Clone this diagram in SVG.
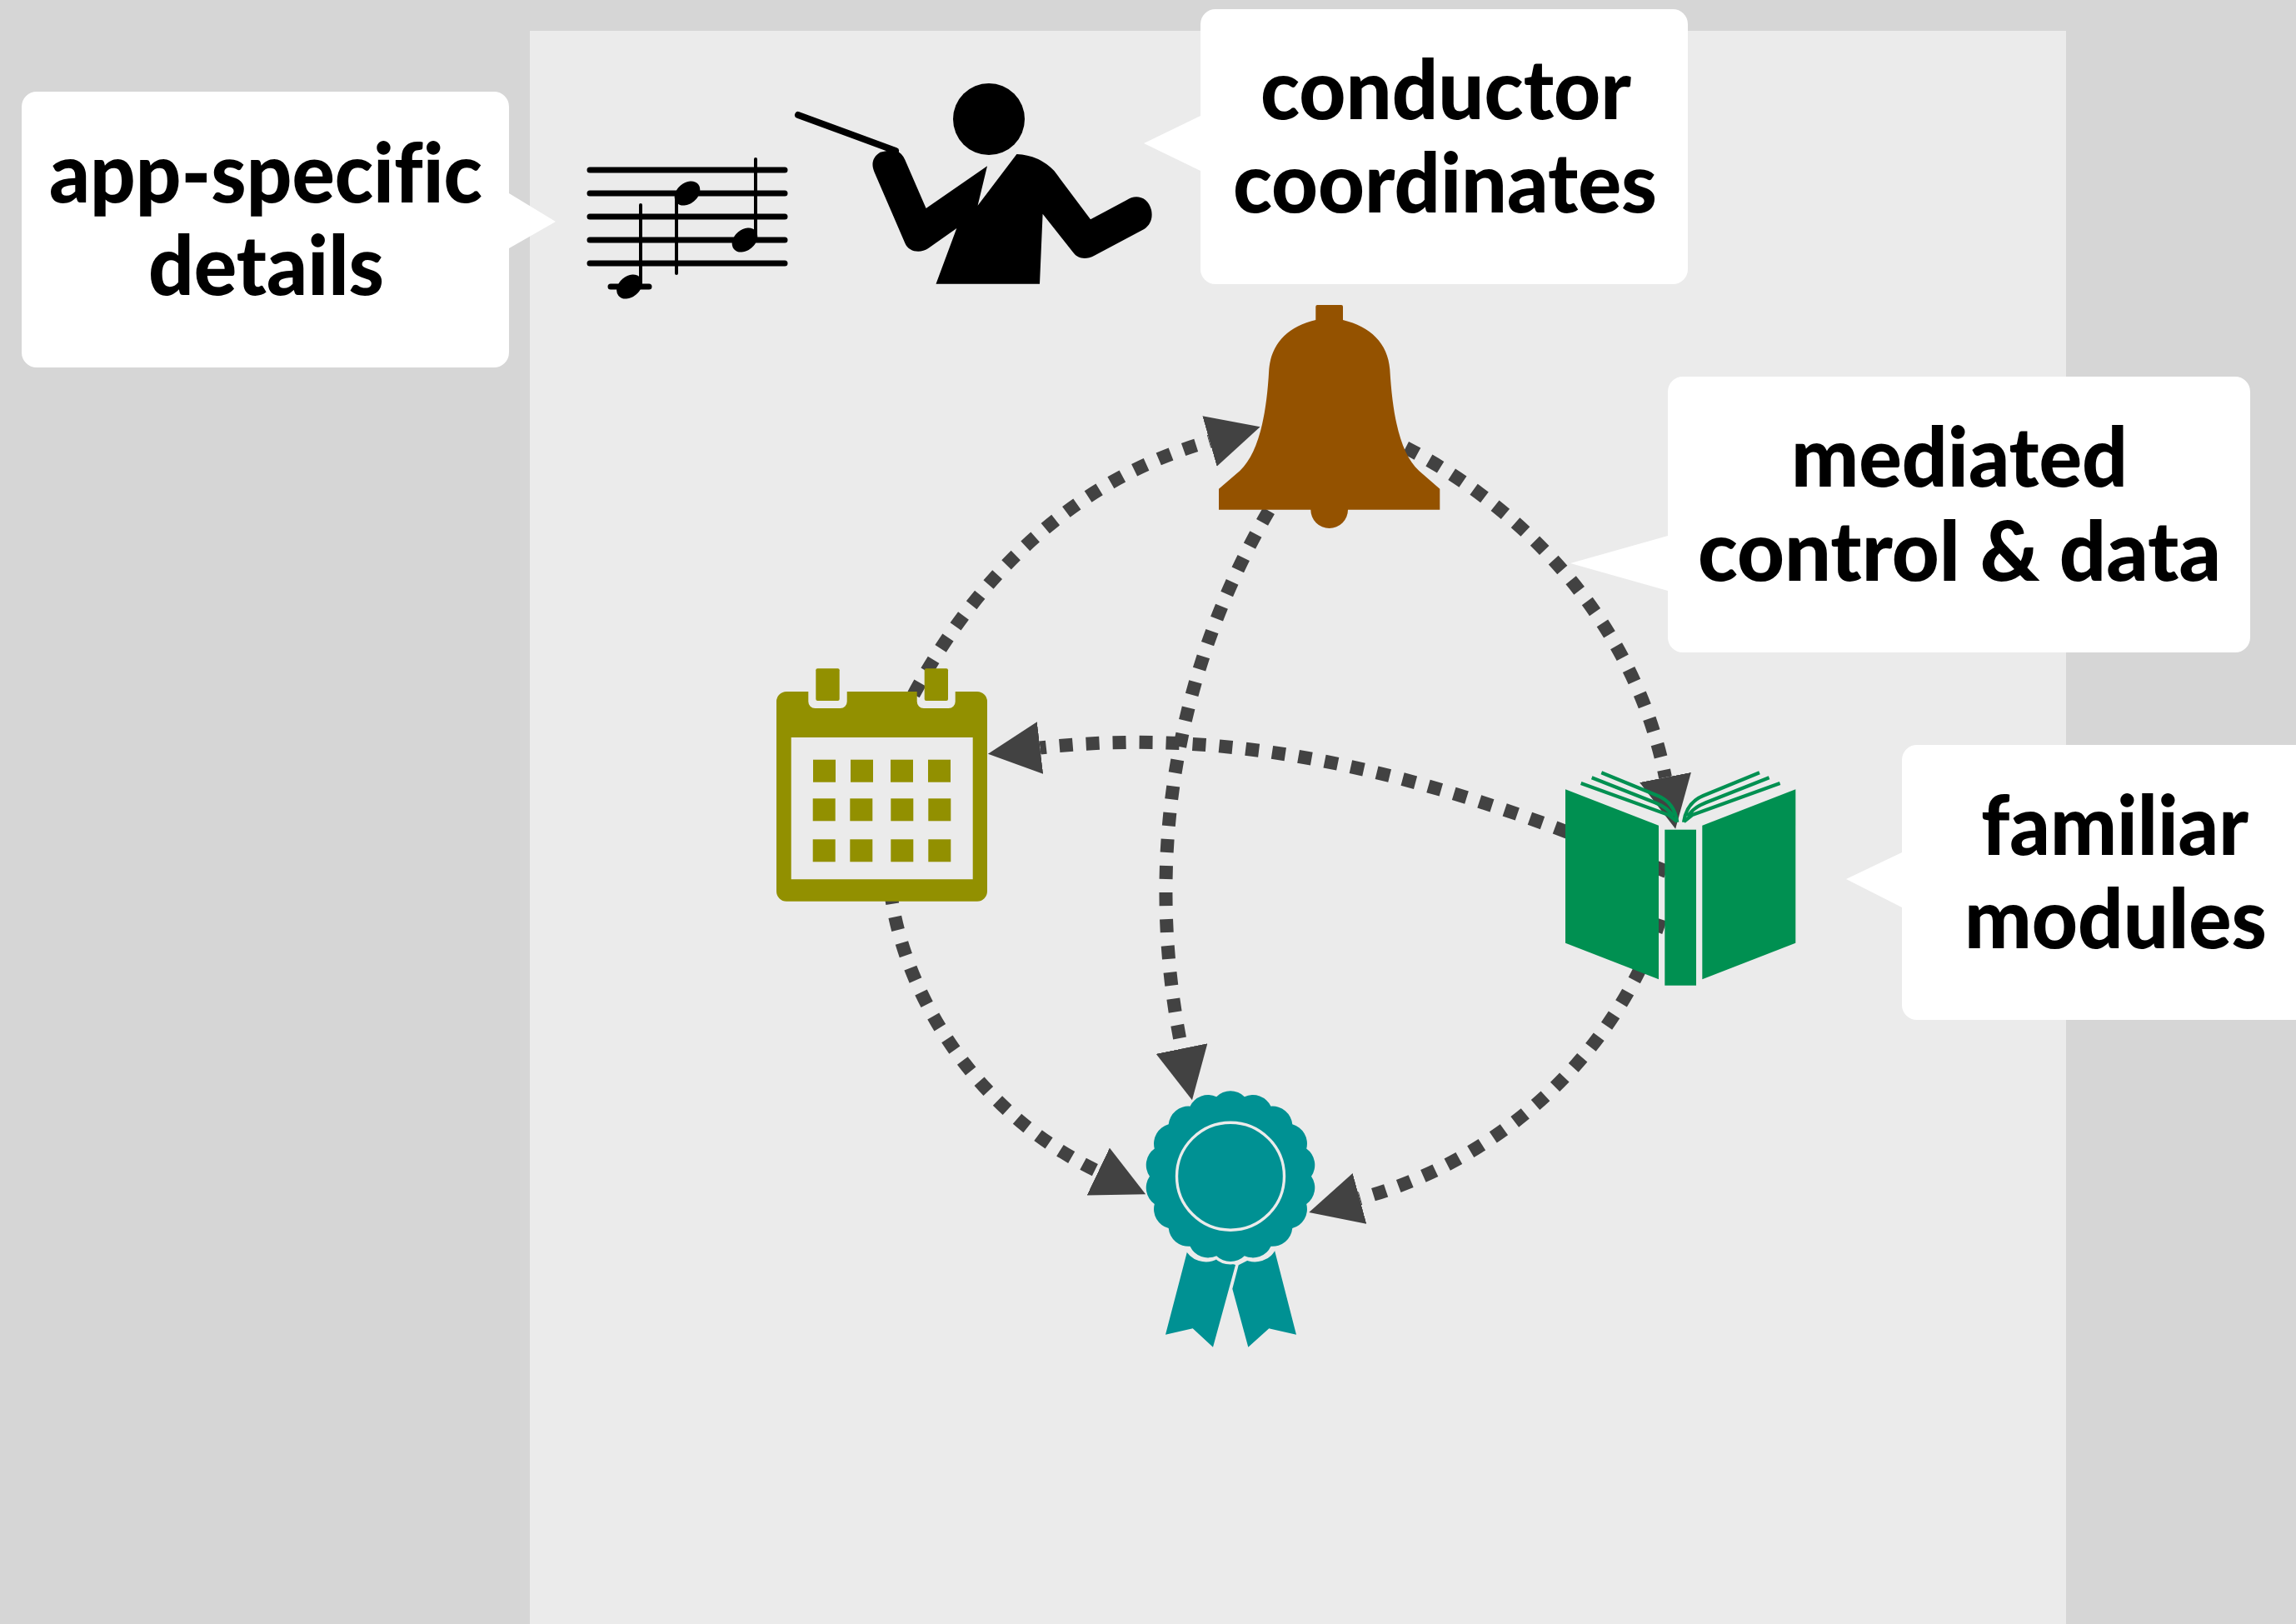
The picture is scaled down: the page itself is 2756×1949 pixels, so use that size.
<svg xmlns="http://www.w3.org/2000/svg" width="2756" height="1949" viewBox="0 0 2756 1949">
<style>
.call{fill:#fff}
.lbl{font-family:"Lato","Noto Sans",sans-serif;font-weight:900;font-size:100px;fill:#000;font-variant-ligatures:none}
.arc{fill:none;stroke:#424242;stroke-width:16;stroke-dasharray:16 16;marker-end:url(#tip)}
.staff{stroke:#000;stroke-width:7;stroke-linecap:round;fill:none}
.stem{stroke:#000;stroke-width:4;stroke-linecap:round;fill:none}
.page{fill:none;stroke:#009051;stroke-width:4.2}
.asp{fill:#929000}
</style>
<defs>
<marker id="tip" markerUnits="userSpaceOnUse" markerWidth="64" markerHeight="64" refX="0" refY="31.5" orient="auto" viewBox="0 0 64 64"><path d="M0 0L63 31.5L0 63Z" fill="#424242"/></marker>
</defs>
<rect width="2756" height="1949" fill="#d6d6d6"/>
<rect x="636" y="37" width="1844" height="1912" fill="#ebebeb"/>
<g id="connectors">
<path class="arc" d="M1082 862C1163 697 1285 577 1452 529.5"/>
<path class="arc" d="M1658.6 523C1830 602 1963 750 1999 933"/>
<path class="arc" d="M1993 1103C1939 1266 1802 1392 1632 1438.5"/>
<path class="arc" d="M2000.5 1046C1748 940 1503 868 1248.5 897.5"/>
<path class="arc" d="M1523 613C1412 804 1372 1028 1418.5 1258.5"/>
<path class="arc" d="M1069 1069C1081 1172 1155 1328 1318.3 1406"/>
</g>
<g id="score">
<path class="staff" d="M708 204H942M708 232H942M708 260H942M708 288H942M708 316H942M733 344H779"/>
<path class="stem" d="M769 246V340M812 233V328M907 191V283"/>
<ellipse cx="755.5" cy="344" rx="17" ry="12.5" transform="rotate(-40 755.5 344)"/>
<ellipse cx="825" cy="232" rx="17" ry="12.5" transform="rotate(-40 825 232)"/>
<ellipse cx="894" cy="288" rx="17" ry="12.5" transform="rotate(-40 894 288)"/>
</g>
<g id="conductor">
<circle cx="1187" cy="143" r="43"/>
<path d="M958 138L1075 181" stroke="#000" stroke-width="8" stroke-linecap="round" fill="none"/>
<path d="M1056.5 182.7Q1066 180 1075 180Q1083 184 1086.3 191.7L1111.6 250L1185 199.3L1173.6 246.7L1220.4 185Q1247 186 1265.4 205L1309 263.3L1352.6 240C1362 233 1378 235 1382 252C1384 262 1381 270 1373.3 275L1313.6 306.7C1304 312 1294 311 1288.4 303.3L1251.6 256.7L1248 340.7H1123.5L1148.3 274L1113.9 298.3C1105 304 1091 303 1086.3 291.7L1049.6 206.7C1045 196 1048 188 1056.5 182.7Z"/>
</g>
<g id="bell">
<path fill="#945200" d="M1579.3 368Q1579.3 366 1581.3 366H1610Q1612 366 1612 368V384C1645 392 1666 412 1668.3 443.3C1672 505 1682 545 1703.3 565L1728.3 586.7V611.7H1618A22.3 22.3 0 0 1 1573.3 611.7H1463V586.7L1488.3 565C1509 545 1520 505 1523.3 443.3C1526 412 1546 392 1579.3 384Z"/>
</g>
<g id="calendar">
<path class="asp" fill-rule="evenodd" d="M944 830H970.3V842A8 8 0 0 0 978.3 850H1008.7A8 8 0 0 0 1016.7 842V830H1100.7V842A8 8 0 0 0 1108.7 850H1138.7A8 8 0 0 0 1146.7 842V830H1173A12 12 0 0 1 1185 842V1069.7A12 12 0 0 1 1173 1081.7H944A12 12 0 0 1 932 1069.7V842A12 12 0 0 1 944 830ZM949.7 885V1055.3H1167.7V885Z"/>
<rect class="asp" x="979.3" y="802.3" width="28.4" height="38.7" rx="2"/>
<rect class="asp" x="1109.7" y="802.3" width="28.3" height="38.7" rx="2"/>
<rect class="asp" x="976" y="911.7" width="27" height="27"/><rect class="asp" x="1021" y="911.7" width="27" height="27"/><rect class="asp" x="1069" y="911.7" width="27" height="27"/><rect class="asp" x="1114" y="911.7" width="27" height="27"/>
<rect class="asp" x="975.7" y="958.3" width="27" height="27"/><rect class="asp" x="1020.3" y="958.3" width="27" height="27"/><rect class="asp" x="1069.3" y="958.3" width="27" height="27"/><rect class="asp" x="1114.3" y="958.3" width="27" height="27"/>
<rect class="asp" x="975.7" y="1007.3" width="27" height="27"/><rect class="asp" x="1020.3" y="1007.3" width="27" height="27"/><rect class="asp" x="1069.3" y="1007.3" width="27" height="27"/><rect class="asp" x="1114.3" y="1007.3" width="27" height="27"/>
</g>
<g id="book">
<path fill="#009051" d="M1879 947.3L1991 990.7V1175.3L1879 1131.7Z"/>
<rect x="1998.3" y="995.7" width="37.7" height="187" fill="#009051"/>
<path fill="#009051" d="M2155.3 947.3L2043.3 990.7V1175.3L2155.3 1131.7Z"/>
<path class="page" d="M1897.7 940L2003 978L2013 986M1910.7 933.3L1986.7 963.3Q2003.3 970 2008.3 980M1922.3 927.3L1990 955Q2010 963.3 2013.3 986.7"/>
<path class="page" d="M2136.6 940L2031.3 978L2021.3 986M2123.6 933.3L2047.6 963.3Q2031 970 2026 980M2112 927.3L2044.3 955Q2024.3 963.3 2021 986.7"/>
</g>
<g id="rosette">
<path fill="#009193" d="M1426 1498.3L1483 1518L1456 1616.7L1431.7 1594.3L1399 1601.7Z"/>
<path fill="#009193" d="M1529 1496.7L1556 1601.7L1523.3 1594.3L1498.3 1616.7L1479.3 1546.7L1486.7 1518.3Z"/>
<g transform="translate(1477 1411.7)">
<path fill="none" stroke="#ebebeb" stroke-width="7" d="M52 84A24 24 0 0 1 16.8 95.5A24 24 0 0 1 -16.8 95.5A24 24 0 0 1 -52 84"/>
<path fill="#009193" d="M16.8 -95.5A24 24 0 0 1 48.5 -84A24 24 0 0 1 74.3 -62.4A24 24 0 0 1 91.2 -33.2A24 24 0 0 1 97 0A24 24 0 0 1 91.2 33.2A24 24 0 0 1 74.3 62.4A24 24 0 0 1 48.5 84A24 24 0 0 1 16.8 95.5A24 24 0 0 1 -16.8 95.5A24 24 0 0 1 -48.5 84A24 24 0 0 1 -74.3 62.4A24 24 0 0 1 -91.2 33.2A24 24 0 0 1 -97 0A24 24 0 0 1 -91.2 -33.2A24 24 0 0 1 -74.3 -62.4A24 24 0 0 1 -48.5 -84A24 24 0 0 1 -16.8 -95.5A24 24 0 0 1 16.8 -95.5Z"/>
<circle r="64.5" fill="none" stroke="#ebebeb" stroke-width="3.4"/>
</g>
</g>
<g id="callout-details">
<path class="call" d="M44 110H593A18 18 0 0 1 611 128V232L667 266L611 298V423A18 18 0 0 1 593 441H44A18 18 0 0 1 26 423V128A18 18 0 0 1 44 110Z"/>
<text class="lbl" x="59" y="243" textLength="520" lengthAdjust="spacingAndGlyphs">app-specific</text>
<text class="lbl" x="178" y="354" textLength="283" lengthAdjust="spacingAndGlyphs">details</text>
</g>
<g id="callout-conductor">
<path class="call" d="M1459 11H2008A18 18 0 0 1 2026 29V323A18 18 0 0 1 2008 341H1459A18 18 0 0 1 1441 323V205L1373 172L1441 139V29A18 18 0 0 1 1459 11Z"/>
<text class="lbl" x="1513" y="143" textLength="445" lengthAdjust="spacingAndGlyphs">conductor</text>
<text class="lbl" x="1480" y="255" textLength="509" lengthAdjust="spacingAndGlyphs">coordinates</text>
</g>
<g id="callout-mediated">
<path class="call" d="M2020 452H2683A18 18 0 0 1 2701 470V765A18 18 0 0 1 2683 783H2020A18 18 0 0 1 2002 765V709L1885 676L2002 643V470A18 18 0 0 1 2020 452Z"/>
<text class="lbl" x="2150" y="584" textLength="404" lengthAdjust="spacingAndGlyphs">mediated</text>
<text class="lbl" x="2038" y="697" textLength="628" lengthAdjust="spacingAndGlyphs">control &amp; data</text>
</g>
<g id="callout-familiar">
<path class="call" d="M2301 894H2756V1224H2301A18 18 0 0 1 2283 1206V1089L2216 1055L2283 1023V912A18 18 0 0 1 2301 894Z"/>
<text class="lbl" x="2378" y="1026" textLength="321" lengthAdjust="spacingAndGlyphs">familiar</text>
<text class="lbl" x="2358" y="1138" textLength="363" lengthAdjust="spacingAndGlyphs">modules</text>
</g>
</svg>
